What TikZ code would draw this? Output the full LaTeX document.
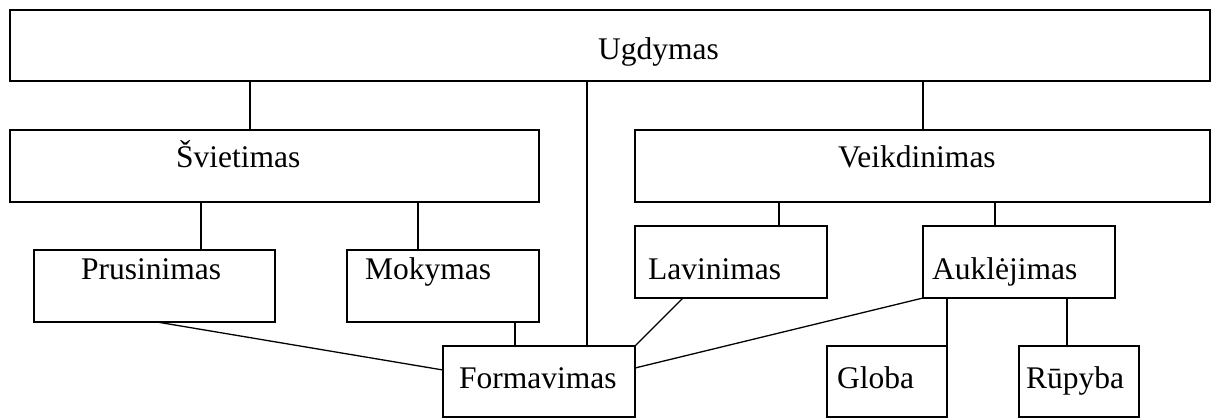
\documentclass[tikz,border=0pt]{standalone}
\usepackage{fontspec}
\setmainfont{Liberation Serif}
\tikzset{
  box/.style={draw, line width=1.3pt, rectangle, inner sep=0pt, outer sep=0pt, anchor=north west},
  lbl/.style={anchor=base west, inner sep=0pt, font=\fontsize{31.5}{38}\selectfont},
  conn/.style={line width=1.3pt}
}
\newcommand{\bx}[5]{\node[box, minimum width={(#4-#2)*1pt}, minimum height={(#5-#3)*1pt}] (#1) at (#2,#3) {};}
\begin{document}
\begin{tikzpicture}[x=1pt,y=-1pt]
\useasboundingbox (0,0) rectangle (1213,418);
\bx{ugd}{10}{10}{1210}{81}
\bx{svi}{10}{130}{539}{202}
\bx{vei}{635}{130}{1210}{202}
\bx{pru}{34}{250}{275}{322}
\bx{mok}{347}{250}{539}{322}
\bx{lav}{635}{226}{827}{298}
\bx{auk}{923}{226}{1115}{298}
\bx{form}{443}{346}{635}{417}
\bx{glo}{827}{346}{947}{417}
\bx{rup}{1019}{346}{1139}{417}
\node[lbl] (tugd) at (598,59) {Ugdymas};
\node[lbl] (tsvi) at (176,167) {Švietimas};
\node[lbl] (tvei) at (838,167) {Veikdinimas};
\node[lbl] (tpru) at (81,279) {Prusinimas};
\node[lbl] (tmok) at (365,279) {Mokymas};
\node[lbl] (tlav) at (648,279) {Lavinimas};
\node[lbl] (tauk) at (932,279) {Auklėjimas};
\node[lbl] (tform) at (459,388) {Formavimas};
\node[lbl] (tglo) at (837,388) {Globa};
\node[lbl] (trup) at (1026,388) {Rūpyba};
\draw[conn] (ugd.south -| 250,0) -- (svi.north -| 250,0);
\draw[conn] (ugd.south -| 923,0) -- (vei.north -| 923,0);
\draw[conn] (ugd.south -| 587,0) -- (form.north -| 587,0);
\draw[conn] (svi.south -| 201,0) -- (pru.north -| 201,0);
\draw[conn] (svi.south -| 418,0) -- (mok.north -| 418,0);
\draw[conn] (vei.south -| 779,0) -- (lav.north -| 779,0);
\draw[conn] (vei.south -| 995,0) -- (auk.north -| 995,0);
\draw[conn] (mok.south -| 515,0) -- (form.north -| 515,0);
\draw[conn] (pru.south -| 157,0) -- (form.west |- 0,370);
\draw[conn] (lav.south -| 683,0) -- (form.north east);
\draw[conn] (auk.south west) -- (form.east |- 0,368);
\draw[conn] (auk.south -| glo.north east) -- (glo.north east);
\draw[conn] (auk.south -| 1067,0) -- (rup.north -| 1067,0);
\end{tikzpicture}
\end{document}
